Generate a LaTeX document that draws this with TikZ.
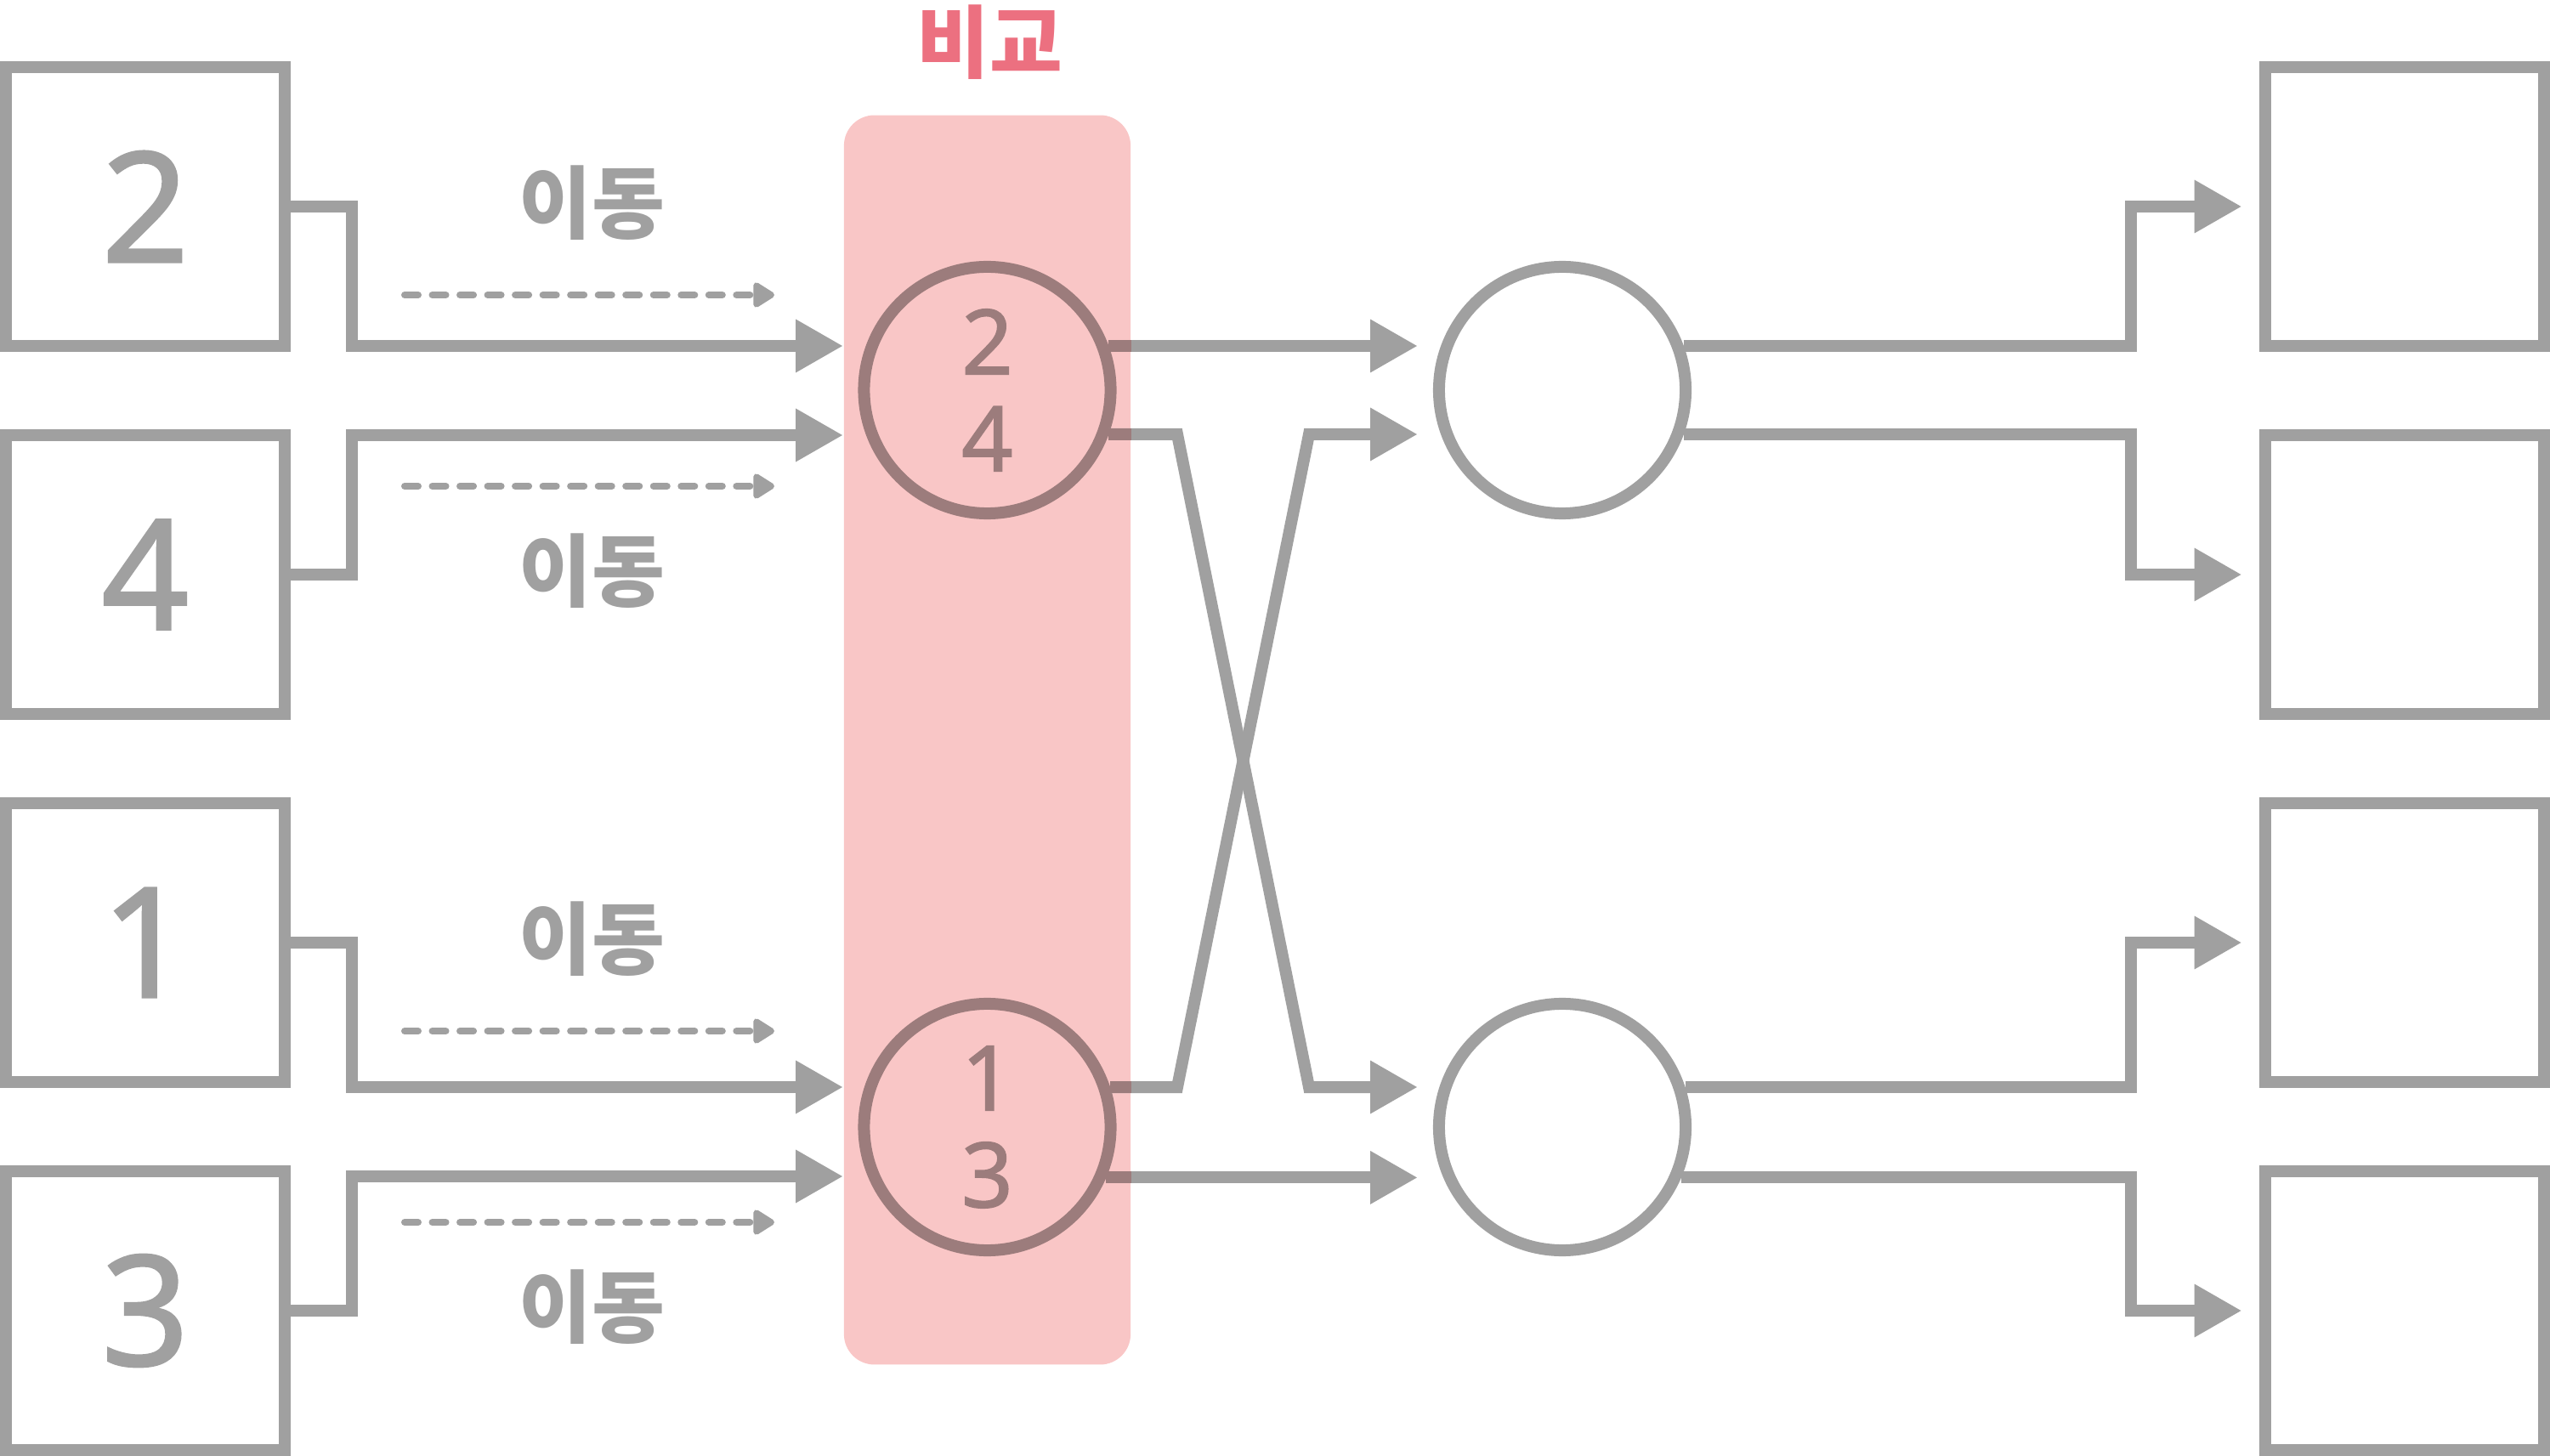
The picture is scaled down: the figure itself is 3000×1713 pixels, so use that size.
\documentclass[tikz,border=0pt]{standalone}
\usepackage{fontspec}
\setmainfont{Noto Sans CJK KR}
\newfontfamily\digitfont{Noto Sans}[FakeBold=1.5]
\usetikzlibrary{arrows.meta}
\definecolor{gr}{HTML}{A0A0A0}
\definecolor{pk}{HTML}{F9C6C6}
\definecolor{dk}{HTML}{9C7C7C}
\definecolor{rd}{HTML}{EC7080}
\begin{document}
\begin{tikzpicture}[x=0.01cm,y=-0.01cm,
  box/.style={draw=gr, line width=3.98pt, minimum size=93.3pt, inner sep=0pt, text=gr, font=\digitfont\fontsize{51.2}{51.2}\selectfont},
  ring/.style={circle, line width=3.98pt, minimum size=82.5pt, inner sep=0pt, align=center, font=\digitfont\fontsize{30.1}{32.4}\selectfont},
  conn/.style={draw=gr, line width=3.98pt, -{Triangle[length=15.6pt,width=17.9pt,line width=0pt]}},
  mv/.style={draw=gr, line width=2.28pt, line cap=round, dash pattern=on 4.55pt off 4.7pt, -{Triangle[round,length=8pt,width=9.4pt]}},
  lbl/.style={text=gr, font=\bfseries\fontsize{26.5}{26.5}\selectfont, inner sep=0pt},
  dkseg/.style={draw=dk, line width=3.98pt},
]
\useasboundingbox (0,0) rectangle (3000,1713);
% comparison column
\node[fill=pk, rounded corners=10.2pt, minimum width=95.9pt, minimum height=418pt, inner sep=0pt] (cmp) at (1161.5,870.5) {};
\node[text=rd, font=\bfseries\fontsize{26.5}{26.5}\selectfont, inner sep=0pt] (cmplbl) at (1164.5,49.5) {비교};
% left boxes
\node[box] (b2) at (171,243) {2};
\node[box] (b4) at (171,676) {4};
\node[box] (b1) at (171,1109) {1};
\node[box] (b3) at (171,1542) {3};
% right boxes
\node[box] (r1) at (2829,243) {};
\node[box] (r2) at (2829,676) {};
\node[box] (r3) at (2829,1109) {};
\node[box] (r4) at (2829,1542) {};
% circles
\node[ring, draw=dk, text=dk] (c24) at (1161.5,459) {2\\4};
\node[ring, draw=dk, text=dk] (c13) at (1161.5,1326) {1\\3};
\node[ring, draw=gr] (m1) at (1838,459) {};
\node[ring, draw=gr] (m2) at (1838,1326) {};
% helper coordinates
\coordinate (xa) at (414,0);
\coordinate (xb) at (1385,0);
\coordinate (xc) at (1540,0);
\coordinate (xd) at (2507,0);
\coordinate (ta) at (991,407);
\coordinate (tb) at (991,512);
\coordinate (tc) at (991,1279);
\coordinate (td) at (991,1384);
% left connectors
\draw[conn] (b2.east) -- (xa |- b2.east) |- (ta);
\draw[conn] (b4.east) -- (xa |- b4.east) |- (tb);
\draw[conn] (b1.east) -- (xa |- b1.east) |- (tc);
\draw[conn] (b3.east) -- (xa |- b3.east) |- (td);
% middle connectors
\draw[conn, shorten >=5.4pt] (c24.20) -- (c24.20 -| m1.west);
\draw[conn, shorten >=5.4pt] (c13.337.6) -- (c13.337.6 -| m2.west);
\draw[conn, shorten >=5.4pt] (c24.340) -- (c24.340 -| xb) -- (xc |- c13.18) -- (c13.18 -| m2.west);
\draw[conn, shorten >=5.4pt] (c13.18) -- (c13.18 -| xb) -- (xc |- c24.340) -- (c24.340 -| m1.west);
% right connectors
\draw[conn, shorten >=6.1pt] (m1.20) -- (m1.20 -| xd) |- (r1.west);
\draw[conn, shorten >=6.1pt] (m1.340) -- (m1.340 -| xd) |- (r2.west);
\draw[conn, shorten >=6.1pt] (m2.18) -- (m2.18 -| xd) |- (r3.west);
\draw[conn, shorten >=6.1pt] (m2.337.6) -- (m2.337.6 -| xd) |- (r4.west);
% darker parts inside the column
\begin{scope}
\clip[rounded corners=10.2pt] (cmp.south west) rectangle (cmp.north east);
\draw[dkseg] (c24.20) -- ++(80,0);
\draw[dkseg] (c24.340) -- ++(80,0);
\draw[dkseg] (c13.18) -- ++(80,0);
\draw[dkseg] (c13.337.6) -- ++(80,0);
\end{scope}
% move arrows
\coordinate (d2s) at (476,347); \coordinate (d2e) at (911,347);
\coordinate (d4s) at (476,572); \coordinate (d4e) at (911,572);
\coordinate (d1s) at (476,1213); \coordinate (d1e) at (911,1213);
\coordinate (d3s) at (476,1438); \coordinate (d3e) at (911,1438);
\draw[mv] (d2s) -- (d2e);
\draw[mv] (d4s) -- (d4e);
\draw[mv] (d1s) -- (d1e);
\draw[mv] (d3s) -- (d3e);
% labels
\node[lbl] (l2) at (696,238.5) {이동};
\node[lbl] (l4) at (696,671.5) {이동};
\node[lbl] (l1) at (696,1104.5) {이동};
\node[lbl] (l3) at (696,1537.5) {이동};
\end{tikzpicture}
\end{document}
